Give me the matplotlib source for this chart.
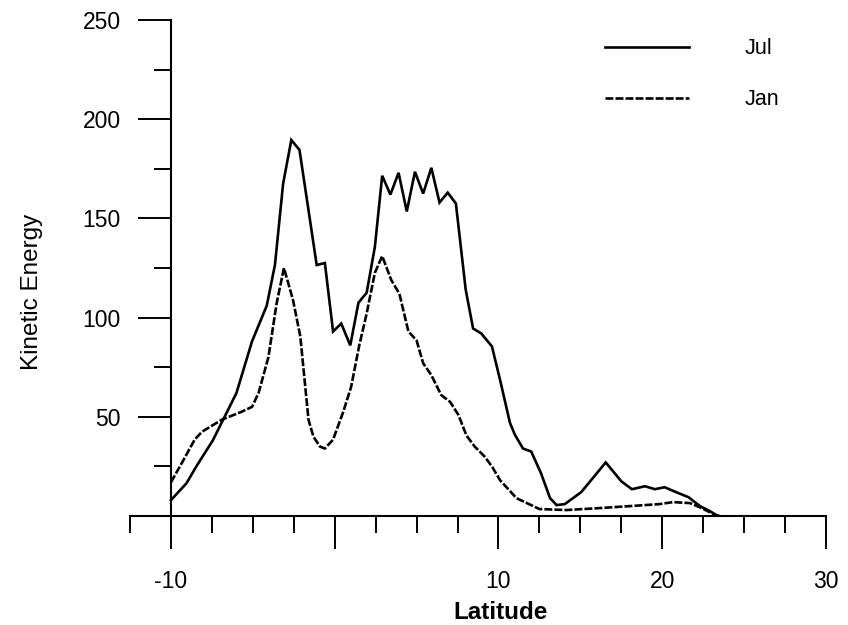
import matplotlib
matplotlib.use("Agg")
import matplotlib.pyplot as plt
from matplotlib.ticker import FixedLocator, MultipleLocator

plt.rcParams['font.family'] = ['Liberation Sans', 'DejaVu Sans']

# ---- data ----
lat_jul = [-10.0, -9.05, -8.45, -7.45, -6.0, -5.05, -4.15, -3.65, -3.15, -2.65,
           -2.15, -1.1, -0.6, -0.1, 0.4, 0.95, 1.45, 1.95, 2.45, 2.9,
           3.4, 3.9, 4.4, 4.9, 5.4, 5.9, 6.4, 6.9, 7.4, 8.0,
           8.45, 8.95, 9.6, 10.1, 10.7, 11.0, 11.5, 12.0, 12.6, 13.15,
           13.55, 14.05, 15.05, 16.55, 17.5, 18.15, 18.95, 19.55, 20.15, 20.85,
           21.6, 22.3, 22.9, 23.3, 23.5]
ke_jul = [8, 16.5, 25, 38, 62, 88, 106, 126.5, 167.5, 189.5,
          184.5, 126.5, 127.5, 93, 97, 86, 107.5, 112.5, 135.5, 171.5,
          162, 173, 153.5, 173.5, 162.5, 175.5, 158, 163, 157.5, 114,
          94.5, 92, 85.5, 68.5, 47, 41, 34, 32.5, 21.5, 9,
          5.5, 6, 12, 27, 17.5, 13.5, 15, 13.5, 14.5, 12,
          9.5, 5, 2.5, 0.5, 0]

lat_jan = [-10.0, -9.35, -8.55, -8.1, -6.9, -5.7, -5.05, -4.65, -4.05, -3.55,
           -3.1, -2.55, -2.1, -1.6, -1.3, -0.9, -0.6, -0.1, 0.5, 1.0,
           1.5, 1.95, 2.45, 2.9, 3.45, 3.95, 4.5, 5.0, 5.4, 5.9,
           6.5, 7.05, 7.55, 8.05, 8.55, 9.15, 9.6, 10.1, 11.1, 12.5,
           14.15, 16.2, 18.05, 19.85, 20.65, 21.7, 22.4, 23.0, 23.4]
ke_jan = [17, 26.5, 38.5, 42.5, 48.5, 52.5, 55, 62, 80, 107,
          125, 109, 90.5, 48.5, 40, 35, 34, 38.5, 52, 65,
          86, 102, 122.5, 131, 119, 112, 93, 88.5, 77, 71,
          61, 57.5, 51, 40.5, 35, 30, 25, 18, 9, 3.5,
          3, 4, 5, 6, 7, 6.5, 4, 1.5, 0]

series_labels = ["Jul", "Jan"]
x_major = [-10, 0, 10, 20, 30]
x_major_labels = ["-10", "", "10", "20", "30"]
y_major = [50, 100, 150, 200, 250]

# ---- figure ----
fig = plt.figure(figsize=(8.48, 6.25), dpi=100)
ax = fig.add_axes([130/848, 109/625, 696/848, 496/625])

lw = 1.9
ax.plot(lat_jul, ke_jul, color='black', lw=lw, solid_joinstyle='miter',
        label=series_labels[0], zorder=3)
ax.plot(lat_jan, ke_jan, color='black', lw=lw, linestyle=(0, (3.0, 0.8)),
        label=series_labels[1], zorder=3)

ax.set_xlim(-12.5, 30)
ax.set_ylim(0, 250)

for s in ['top', 'right']:
    ax.spines[s].set_visible(False)
ax.spines['left'].set_position(('data', -10))
ax.spines['left'].set_linewidth(1.5)
ax.spines['bottom'].set_linewidth(1.5)

ax.xaxis.set_major_locator(FixedLocator(x_major))
ax.set_xticklabels(x_major_labels)
ax.xaxis.set_minor_locator(MultipleLocator(2.5))
ax.yaxis.set_major_locator(FixedLocator(y_major))
ax.yaxis.set_minor_locator(MultipleLocator(25))

ax.tick_params(axis='x', which='major', direction='out', length=24, width=1.4,
               labelsize=16.5, pad=15)
ax.tick_params(axis='x', which='minor', direction='out', length=12, width=1.4)
ax.tick_params(axis='y', which='major', direction='out', length=24, width=1.4,
               labelsize=16.5, pad=12)
ax.tick_params(axis='y', which='minor', direction='out', length=12, width=1.4)

ax.set_xlabel("Latitude", fontsize=17.5, fontweight='bold')
ax.xaxis.set_label_coords(0.532, -0.172)
ax.set_ylabel("Kinetic Energy", fontsize=17.5)
ax.yaxis.set_label_coords(-0.125, 0.452)

leg = ax.legend(loc='upper left', bbox_to_anchor=(0.682, 0.963), frameon=False,
                fontsize=15.5, handlelength=3.9, handletextpad=2.6,
                labelspacing=1.38, borderpad=0, borderaxespad=0)

fig.savefig("out.png", dpi=100)
